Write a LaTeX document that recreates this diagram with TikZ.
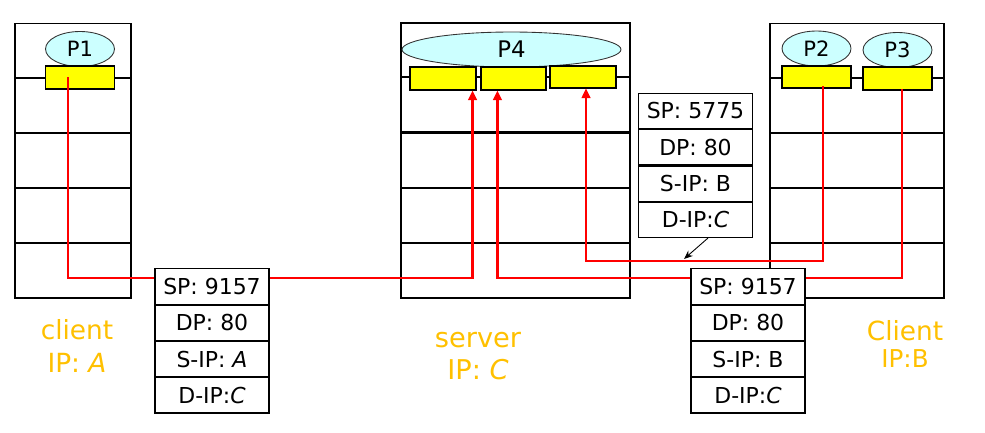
\documentclass[tikz,border=0pt]{standalone}
\usepackage{fontspec}
\setmainfont{DejaVu Sans}
\usepackage{xcolor}
\definecolor{sockyellow}{RGB}{255, 255, 0}
\definecolor{proccyan}{RGB}{204, 255, 255}
\definecolor{labelgold}{RGB}{255, 192, 0}
\definecolor{wirered}{RGB}{255, 0, 0}
\usetikzlibrary{shapes.geometric, arrows.meta, positioning}

\begin{document}
\begin{tikzpicture}[x=0.02cm, y=-0.02cm,
      host/.style={rectangle, draw=black, line width=0.6pt, inner sep=0pt, minimum height=5.5cm},
      proc/.style={ellipse, draw=black!80, fill=proccyan, line width=0.5pt, inner sep=0pt, minimum width=1.38cm, minimum height=0.7cm, font=\fontsize{12}{14}\selectfont},
      sock/.style={rectangle, draw=black, fill=sockyellow, line width=0.6pt, inner sep=0pt, minimum width=1.38cm, minimum height=0.46cm},
      pkt/.style={rectangle, draw=black, fill=white, line width=0.6pt, inner sep=0pt, minimum width=2.28cm, minimum height=0.705cm, font=\fontsize{12.5}{14}\selectfont},
      wire/.style={wirered, line width=1.2pt},
      wirein/.style={wire, -{Triangle[length=5.5pt, width=5pt]}},
      lbl/.style={text=labelgold, align=center, font=\fontsize{15}{18.5}\selectfont}
  ]
    \useasboundingbox (0,0) rectangle (985,433);

    % Hosts
    \node[host, minimum width=2.32cm] (hostA) at (73, 160.5) {};
    \node[host, minimum width=4.58cm, minimum height=2.18cm] (srvtop) at (515.5, 77.5) {};
    \node[host, minimum width=4.58cm, minimum height=3.3cm] (srvbot) at (515.5, 215.5) {};
    \node[host, minimum width=3.48cm] (hostB) at (857, 160.5) {};
    \foreach \y in {78, 133, 188, 243} {
      \draw[line width=0.6pt] (hostA.west |- 0,\y) -- (hostA.east |- 0,\y);
      \draw[line width=0.6pt] (hostB.west |- 0,\y) -- (hostB.east |- 0,\y);
    }
    \draw[line width=0.6pt] (srvtop.west |- 0,77) -- (srvtop.east |- 0,77);
    \foreach \y in {188, 243}
      \draw[line width=0.6pt] (srvbot.west |- 0,\y) -- (srvbot.east |- 0,\y);

    % Processes and sockets
    \node[proc] (p1) at (80, 49) {P1};
    \node[proc, minimum width=4.38cm, font=\fontsize{13}{15}\selectfont] (p4) at (511.5, 49.5) {P4};
    \node[proc] (p2) at (816.5, 48.5) {P2};
    \node[proc] (p3) at (897.5, 50) {P3};
    \node[sock] (sA) at (80, 77.5) {};
    \node[sock, minimum width=1.32cm] (s41) at (443, 78.5) {};
    \node[sock, minimum width=1.3cm] (s42) at (513.5, 78.5) {};
    \node[sock, minimum width=1.32cm, minimum height=0.44cm] (s43) at (583, 77) {};
    \node[sock, minimum height=0.44cm] (sB2) at (816.5, 77) {};
    \node[sock] (sB3) at (897.5, 78.5) {};

    % Connections
    \coordinate (a0) at (68, 77); \coordinate (a1) at (68, 278);
    \coordinate (b0) at (823, 86); \coordinate (b1) at (823, 261);
    \coordinate (c0) at (902, 89); \coordinate (c1) at (902, 278);
    \draw[wire] (a0) -- (a1) -- (a1 -| 155,0);
    \draw[wirein] (a1 -| 269,0) -| ([xshift=-0.08cm]s41.south east);
    \draw[wirein] (b0) -- (b1) -| ([xshift=0.06cm]s43.south);
    \draw[wire] (c0) -- (c1) -- (c1 -| 805,0);
    \draw[wirein] (c1 -| 691,0) -| ([xshift=0.34cm]s42.south west);

    % Segments
    \node[pkt] (pa1) at (212, 286.5) {SP: 9157};
    \node[pkt, below=0pt of pa1] (pa2) {DP: 80};
    \node[pkt, below=0pt of pa2] (pa3) {S-IP: \textit{A}};
    \node[pkt, below=0pt of pa3] (pa4) {D-IP:\textit{C}};
    \node[pkt] (pb1) at (748, 286.5) {SP: 9157};
    \node[pkt, below=0pt of pb1] (pb2) {DP: 80};
    \node[pkt, below=0pt of pb2] (pb3) {S-IP: B};
    \node[pkt, below=0pt of pb3] (pb4) {D-IP:\textit{C}};
    \node[pkt] (pc1) at (695.5, 111) {SP: 5775};
    \node[pkt, below=0pt of pc1] (pc2) {DP: 80};
    \node[pkt, below=0pt of pc2] (pc3) {S-IP: B};
    \node[pkt, below=0pt of pc3] (pc4) {D-IP:\textit{C}};
    \coordinate (tag) at (684, 259);
    \draw[-{Stealth[length=5pt, width=4pt]}, line width=0.5pt] ([xshift=0.25cm]pc4.south) -- (tag);

    % Labels
    \node[lbl] (lblA) at (77, 346) {client\\IP: \textit{A}};
    \node[lbl, font=\fontsize{15.5}{18.5}\selectfont] (lblC) at (478, 356) {server\\IP: \textit{C}};
    \node[lbl] (lblB) at (905, 344) {Client\\[-3pt]\fontsize{14}{16}\selectfont IP:B};
  \end{tikzpicture}
\end{document}
